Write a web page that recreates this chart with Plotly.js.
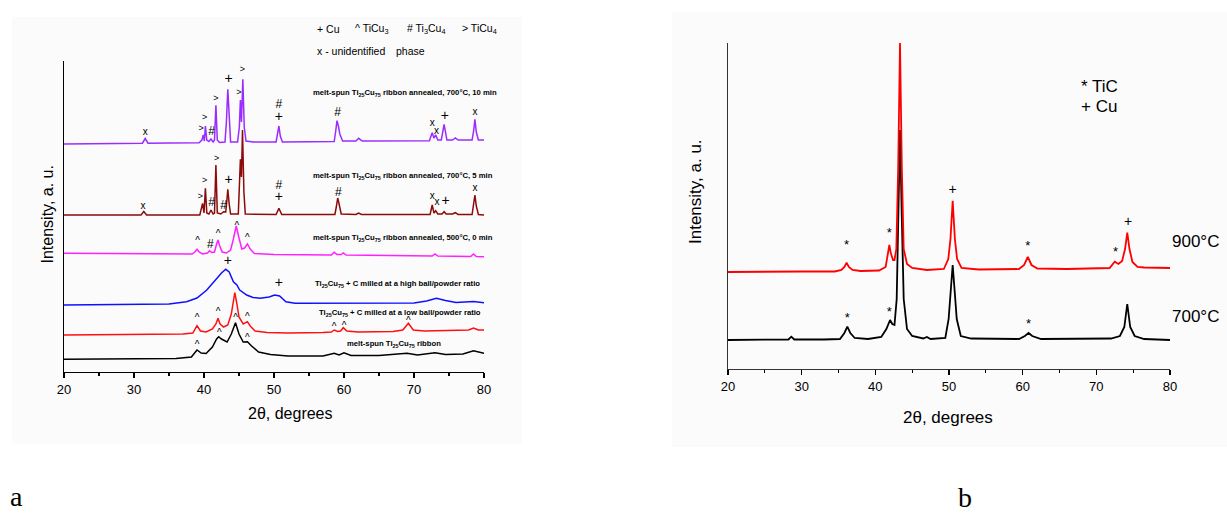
<!DOCTYPE html>
<html>
<head>
<meta charset="utf-8">
<script src="https://cdn.plot.ly/plotly-3.0.1.min.js"></script>
<style>html,body{margin:0;padding:0;background:#fff}#chart{width:1227px;height:513px}</style>
</head>
<body>
<div id="chart"></div>
<script>
// ---------- DATA (2θ in degrees, intensity in arbitrary stacked units) ----------
// Panel a
const aAnneal10min = [[20,228],[25,228.3],[31.2,228.8],[31.6,233.5],[32.0,228.8],[35,229],[39.3,229.3],[39.7,232],[39.9,237],[40.05,231],[40.2,246],[40.4,232],[40.7,230.5],[41.0,233],[41.3,230],[41.5,232],[41.7,266.7],[41.9,232],[42.2,229.5],[43.0,230],[43.2,250],[43.4,282.7],[43.6,250],[43.8,230],[44.8,230],[45.05,245],[45.2,272],[45.35,250],[45.55,292.7],[45.75,245],[46.0,231],[47,230],[50.3,230],[50.5,238],[50.7,246],[50.9,236],[51.2,230],[55,230.3],[58.6,230.5],[58.8,240],[59.0,251.3],[59.2,246],[59.4,238],[59.8,231],[61.7,231],[62.1,233.7],[62.6,231],[72.2,231.3],[72.6,239.3],[72.85,234],[73.1,237],[73.4,232],[73.9,232],[74.3,247.7],[74.7,232],[75.5,232],[75.9,234],[76.3,232],[78.3,232],[78.5,240],[78.7,252.7],[78.9,240],[79.2,232],[80,232]];
const aAnneal5min = [[20,157],[31.0,157],[31.4,160.5],[31.8,157],[39.4,157],[39.8,168.7],[40.0,159],[40.2,183.7],[40.4,159],[40.7,158],[41.0,162],[41.3,158],[41.5,159],[41.7,207],[41.9,159],[42.4,158],[42.8,160.3],[43.1,160],[43.25,170],[43.4,182.7],[43.6,168],[43.8,158],[44.9,158],[45.1,190],[45.2,212.7],[45.35,195],[45.5,242],[45.7,180],[45.9,158],[50.3,157.5],[50.7,163.7],[51.1,157.5],[58.7,157.5],[58.9,165],[59.1,174],[59.3,168],[59.6,158],[61.7,157.5],[62.1,159],[62.5,157.5],[72.3,157.5],[72.6,167],[72.85,159],[73.1,161.3],[73.4,158],[74.0,158],[74.3,160.3],[74.6,158],[75.5,158],[75.9,159.3],[76.3,157.5],[78.3,157.5],[78.5,166],[78.7,177],[78.9,166],[79.2,157.5],[80,157]];
const aAnneal500 = [[20,118.7],[30,118],[37,117.8],[38.3,118],[38.7,120],[39.0,122.7],[39.3,120],[39.8,118],[40.5,119],[40.8,121.3],[41.1,119.5],[41.5,120],[41.8,128],[42.0,132],[42.2,127],[42.6,120],[43.2,119],[43.8,122],[44.2,133],[44.6,146],[45.0,134],[45.4,123],[45.8,124],[46.2,128],[46.6,123],[47.2,118.5],[50,117.5],[58.2,117],[58.6,119.7],[59.0,117.5],[59.6,117.5],[59.9,119],[60.3,117],[65,116.5],[72.6,116],[73.0,118],[73.4,116],[78.1,115.5],[78.5,118],[78.9,115.5],[80,115.3]];
const aMilledHigh = [[20,67],[25,67.5],[30,67.5],[35,68],[37.5,70.3],[39,74],[40.4,82],[41.8,93.7],[42.5,99],[43.1,102.7],[43.6,100],[44.2,90.3],[44.7,87],[45.1,82],[46.1,77],[47,74.5],[48,73.7],[49.3,75],[50.1,77],[50.8,76],[51.7,70.3],[53,68.7],[58,68.7],[65,68.5],[70,69],[71.8,71],[73.2,73.7],[74.5,71.5],[76,69.5],[78.5,70.5],[80,69.3]];
const aMilledLow = [[20,37],[30,37.5],[37,38],[38.4,39],[39.0,46.3],[39.5,41],[40.3,40],[41.2,43],[41.7,48],[42.0,53.7],[42.3,48],[42.8,45],[43.4,47],[43.9,58],[44.2,70],[44.4,79.3],[44.65,70],[45.0,55],[45.6,48],[46.2,50.3],[46.6,46],[47.3,41],[49,39.5],[52,39],[57,39.5],[58.2,40],[58.6,42],[59.1,40.5],[59.5,41],[59.9,44.3],[60.4,41],[62,40],[67,40.5],[68.4,42],[69.2,48.7],[69.9,42],[71.5,41],[75,41.5],[77.8,42],[78.5,44],[79.2,42],[80,42]];
const aRibbon = [[20,12.7],[30,13],[36,13.5],[38.2,15],[39.0,22],[39.6,19],[40.3,18.5],[41.2,25],[41.8,33],[42.1,35.3],[42.5,33],[43.3,30],[43.9,38],[44.5,49.3],[45.0,38],[45.6,30],[46.2,30.3],[46.8,26],[47.8,20],[49.5,17.5],[52,16],[57,16],[58.6,18.7],[59.3,17],[60.0,19.3],[61,16.5],[65,16.5],[69.0,18.7],[70.5,17],[73.0,19.3],[74.5,17.5],[77,18],[78.5,21.3],[80,18.7]];

// Phase marks, panel a: [symbol, 2θ, level]
const aMarks = [
  ['x',31.6,239.3],['>',39.6,243],['>',40.1,254.7],['#',41.1,240.3],['>',41.7,273],['+',43.5,292.7],['>',45.0,279.7],['>',45.5,302],['#',50.7,267],['+',50.7,254.7],['#',59.1,259.3],['x',72.6,247.7],['x',73.2,240.3],['+',74.4,256],['x',78.7,258.7],
  ['x',31.3,164.7],['>',39.5,175.3],['>',40.1,191.3],['#',41.1,169.3],['>',41.8,213],['#',42.8,166],['+',43.5,191.3],['#',50.7,186],['+',50.7,174.3],['#',59.2,178.7],['x',72.6,174.7],['x',73.3,168.7],['+',74.5,170.3],['x',78.7,183],
  ['^',39.1,132.7],['#',40.9,127],['^',42.0,139.3],['^',44.7,148],['^',46.2,136],
  ['+',43.4,111],['+',50.7,88.7],
  ['^',39.0,55.3],['^',42.0,62],['^',46.2,57],['^',58.6,47],['^',60.0,47.7],['^',69.2,52.7],
  ['^',39.0,28.7],['^',42.2,40.3],['^',44.5,56],['^',46.2,36]
];
const aCurveNames = [
  'melt-spun Ti<sub>25</sub>Cu<sub>75</sub> ribbon annealed, 700°C, 10 min',
  'melt-spun Ti<sub>25</sub>Cu<sub>75</sub> ribbon annealed, 700°C, 5 min',
  'melt-spun Ti<sub>25</sub>Cu<sub>75</sub> ribbon annealed, 500°C, 0 min',
  'Ti<sub>25</sub>Cu<sub>75</sub> + C milled at a high ball/powder ratio',
  'Ti<sub>25</sub>Cu<sub>75</sub> + C milled at a low ball/powder ratio',
  'melt-spun Ti<sub>25</sub>Cu<sub>75</sub> ribbon'
];
const aPhaseKey = ['+ Cu','^ TiCu<sub>3</sub>','# Ti<sub>3</sub>Cu<sub>4</sub>','> TiCu<sub>4</sub>'];
const aPhaseKey2 = ['x - unidentified','phase'];

// Panel b
const b900 = [[20,97],[25,97.5],[30,97.5],[34.5,97.5],[35.4,99],[35.8,102],[36.1,106.3],[36.4,102],[36.9,99],[38,98],[40.5,98.5],[41.4,102],[41.7,113],[41.9,124],[42.1,116],[42.4,109],[42.6,109],[42.85,120],[43.1,200],[43.35,326],[43.6,200],[43.85,120],[44.3,105],[45,101],[47,99],[49.3,100],[49.9,110],[50.2,130],[50.5,168.3],[50.8,130],[51.1,110],[51.7,101],[54,99.5],[59.5,100],[60.2,104],[60.7,112],[61.2,104],[62,100.5],[66,100],[71.8,101],[72.5,107.3],[73.0,105],[73.5,108],[73.9,120],[74.2,136.3],[74.5,120],[74.9,107],[75.6,102],[76.5,101.5],[78,101],[80,101]];
const b700 = [[20,29],[25,29.5],[28.2,29.5],[28.6,32.3],[29.0,29.5],[33,29.5],[35.2,30],[35.8,36],[36.2,42.3],[36.6,36],[37.2,31],[39,30],[40.8,32],[41.5,40],[42.0,49],[42.3,45],[42.6,44],[42.9,70],[43.1,150],[43.35,239],[43.6,150],[43.85,70],[44.3,40],[45,33],[46.5,30.5],[47.0,32],[47.5,30],[49.5,31],[49.95,50],[50.2,75],[50.5,104],[50.8,75],[51.05,50],[51.6,33],[53,30.5],[59.5,30],[60.3,33],[60.8,36],[61.3,33],[62.5,30],[68,30],[72,30.5],[73.2,33],[73.8,42],[74.2,65],[74.6,42],[75.2,33],[76.5,30],[80,29]];
const bMarks = [
  ['+',43.35,338],['+',50.5,178.6],['*',36.1,126.7],['*',41.9,138.3],['*',60.7,125.7],['*',72.6,119],['+',74.3,146.3],
  ['*',36.2,53.3],['*',41.9,59],['*',60.8,47.3]
];
const bCurveNames = ['900°C','700°C'];
const bPhaseKey = ['* TiC','+ Cu'];
const xTicks = [20,30,40,50,60,70,80];

// ---------- RENDER ----------
const W = 1227, H = 513;
const PX = v => v / W, PY = v => 1 - v / H;
const FONT = 'Liberation Sans, Arial, sans-serif';

function line(pts, color, xa, ya, w) {
  return {x: pts.map(p => p[0]), y: pts.map(p => p[1]), mode: 'lines', type: 'scatter',
    line: {color: color, width: w, shape: 'linear'}, xaxis: xa, yaxis: ya, hoverinfo: 'skip', showlegend: false};
}
const symStyle = {'+': {size: 14, dy: 0}, '#': {size: 12, dy: 0}, '>': {size: 9, dy: 0},
  'x': {size: 10, dy: 0.5}, '^': {size: 10, dy: -2}, '*': {size: 13, dy: -3}};
function marks(list, xa, ya) {
  const groups = {};
  list.forEach(m => { (groups[m[0]] = groups[m[0]] || []).push(m); });
  return Object.keys(groups).map(s => {
    const st = symStyle[s];
    const g = groups[s];
    return {x: g.map(m => m[1]), y: g.map(m => m[2] + st.dy), text: g.map(m => m[0]),
      mode: 'text', type: 'scatter', textposition: 'middle center', cliponaxis: false,
      marker: {color: '#000'},
      textfont: {family: FONT, size: st.size, color: g.map(() => '#000000')}, xaxis: xa, yaxis: ya, hoverinfo: 'skip', showlegend: false};
  });
}

const traces = [
  line(aRibbon, '#000000', 'x', 'y', 1.5),
  line(aMilledLow, '#ff1010', 'x', 'y', 1.5),
  line(aMilledHigh, '#1010ff', 'x', 'y', 1.5),
  line(aAnneal500, '#ff22ff', 'x', 'y', 1.5),
  line(aAnneal5min, '#8b0a0a', 'x', 'y', 1.5),
  line(aAnneal10min, '#9a2cff', 'x', 'y', 1.5),
  line(b700, '#000000', 'x2', 'y2', 1.8),
  line(b900, '#ff0000', 'x2', 'y2', 1.8),
  ...marks(aMarks, 'x', 'y'),
  ...marks(bMarks, 'x2', 'y2')
];

const axX = {range: [20, 80], tickvals: xTicks, ticks: 'outside', ticklen: 5, tickwidth: 1.2, tickcolor: '#000',
  minor: {dtick: 5, tick0: 20, ticks: 'outside', ticklen: 3, tickwidth: 1.2, tickcolor: '#000'},
  showline: true, linecolor: '#000', linewidth: 1.3, showgrid: false, zeroline: false,
  tickfont: {family: FONT, size: 13, color: '#000'}, fixedrange: true};
const axY = {showline: true, linecolor: '#000', linewidth: 1.3, showgrid: false, zeroline: false,
  ticks: '', showticklabels: false, fixedrange: true};

const ann = [];
function txt(text, x, y, size, opts) {
  ann.push(Object.assign({text: text, x: x, y: y, xref: 'paper', yref: 'paper', showarrow: false,
    xanchor: 'left', yanchor: 'middle', font: {family: FONT, size: size, color: '#000'}}, opts || {}));
}
// curve names, panel a
const aNamePos = [[310.7, 92.7], [310.7, 175.7], [310.7, 237.7], [312.7, 284], [316.7, 313.3], [345, 344.3]];
aCurveNames.forEach((t, i) => txt('<b>' + t + '</b>', PX(aNamePos[i][0]), PY(aNamePos[i][1]), 7.7));
// phase key, panel a
[315, 352.7, 405, 460].forEach((x, i) => txt(aPhaseKey[i], PX(x), PY(29), 10.5));
[315, 394.3].forEach((x, i) => txt(aPhaseKey2[i], PX(x), PY(50.7), 10.5));
// axis titles
txt('Intensity, a. u.', PX(47.5), PY(215), 16, {xanchor: 'center', textangle: -90});
txt('2θ, degrees', PX(290.5), PY(413), 16, {xanchor: 'center'});
txt('Intensity, a. u.', PX(696), PY(191), 17, {xanchor: 'center', textangle: -90});
txt('2θ, degrees', PX(948), PY(417.5), 17, {xanchor: 'center'});
// panel b texts
[86, 107].forEach((y, i) => txt(bPhaseKey[i], PX(1079), PY(y), 17));
[241.7, 316.7].forEach((y, i) => txt(bCurveNames[i], PX(1170), PY(y), 17));
// panel letters
const SERIF = 'Liberation Serif, Times New Roman, serif';
txt('a', PX(8), PY(496), 28, {font: {family: SERIF, size: 28, color: '#000'}});
txt('b', PX(956), PY(497), 28, {font: {family: SERIF, size: 28, color: '#000'}});

const layout = {
  width: W, height: H, margin: {l: 0, r: 0, t: 0, b: 0}, paper_bgcolor: '#fff', plot_bgcolor: 'rgba(0,0,0,0)',
  showlegend: false,
  xaxis: Object.assign({}, axX, {domain: [PX(64), PX(484)], anchor: 'y'}),
  yaxis: Object.assign({}, axY, {domain: [PY(372), PY(61)], range: [0, 311], anchor: 'x'}),
  xaxis2: Object.assign({}, axX, {domain: [PX(728), PX(1170)], anchor: 'y2', linecolor: '#333'}),
  yaxis2: Object.assign({}, axY, {domain: [PY(369), PY(43)], range: [0, 326], anchor: 'x2', linecolor: '#333'}),
  shapes: [
    {type: 'rect', xref: 'paper', yref: 'paper', x0: PX(12), x1: PX(522), y0: PY(444), y1: PY(17), fillcolor: '#fbfbfb', line: {width: 0}, layer: 'below'},
    {type: 'rect', xref: 'paper', yref: 'paper', x0: PX(672), x1: PX(1227), y0: PY(447), y1: PY(12), fillcolor: '#fbfbfb', line: {width: 0}, layer: 'below'}
  ],
  annotations: ann
};
Plotly.newPlot('chart', traces, layout, {staticPlot: true, displayModeBar: false});
</script>
</body>
</html>
